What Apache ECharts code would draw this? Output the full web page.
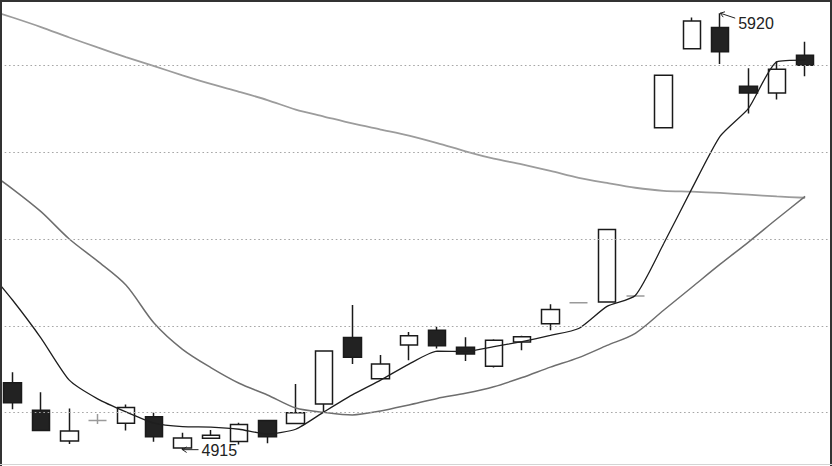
<!DOCTYPE html>
<html><head><meta charset="utf-8">
<script src="https://cdn.jsdelivr.net/npm/echarts@6/dist/echarts.min.js"></script>
<style>html,body{margin:0;padding:0;background:#fff}#c{width:832px;height:466px}</style>
</head><body><div id="c"></div>
<script>
// ---- data ----
const categories = ['', '1','2','3','4','5','6','7','8','9','10','11','12','13','14','15','16','17','18','19','20','21','22','23','24','25','26','27','28','29', ''];
const opens  = [5069,5006,4935,4982,4976,4991,4919,4941,4934,4982,4975,5020,5173,5078,5156,5190,5151,5107,5163,5205,5253,5255,5269,5656,5838,5887,5752,5736,5823];
const closes = [5023,4959,4958,4982,5012,4945,4942,4948,4973,4945,5000,5142,5128,5112,5177,5154,5135,5167,5175,5238,5253,5422,5269,5777,5902,5831,5736,5791,5800];
const lows   = [5008,4959,4928,4974,4959,4933,4915,4941,4927,4930,4975,5000,5112,5078,5121,5148,5119,5104,5144,5190,5253,5255,5269,5656,5838,5803,5689,5721,5775];
const highs  = [5093,5047,5010,4997,5019,5000,4954,4960,4977,4982,5066,5144,5248,5133,5186,5198,5174,5169,5177,5250,5253,5422,5269,5777,5910,5920,5793,5809,5854];
// moving averages: first value is the point just before the first visible candle
const maShort = [5338,5259,5172,5075,5032,5002,4976,4968,4967,4962,4951,4962,5002,5041,5075,5112,5142,5141,5152,5164,5178,5194,5245,5270,5389,5516,5637,5701,5808,5812];
const maMid   = [5562,5515,5463,5400,5349,5294,5206,5146,5104,5068,5041,5011,5001,4995,5004,5018,5033,5045,5060,5081,5105,5127,5155,5183,5236,5289,5342,5393,5446,5498];
const maLong  = [5931,5910,5888,5864,5841,5819,5798,5777,5757,5739,5720,5698,5682,5666,5652,5638,5621,5602,5585,5572,5557,5541,5529,5518,5511,5509,5506,5502,5498,5495];
const gridValues = [5000, 5200, 5400, 5600, 5800];

// ---- build ----
const empty = {value: ['-','-','-','-']};
const dojiStyle = {color:'#9a9a9a', color0:'#9a9a9a', borderColor:'#9a9a9a', borderColor0:'#9a9a9a', borderColorDoji:'#9a9a9a'};
const candleData = [empty].concat(opens.map((o, i) => {
  const item = {value: [o, closes[i], lows[i], highs[i]]};
  if (o === closes[i]) item.itemStyle = dojiStyle;
  return item;
})).concat([empty]);
const withTail = arr => arr.concat(['-']);

const hiIdx = highs.indexOf(Math.max.apply(null, highs));
const loIdx = lows.indexOf(Math.min.apply(null, lows));
const notes = [[hiIdx + 1, highs[hiIdx], 0], [loIdx + 1, lows[loIdx], 1]];

const chart = echarts.init(document.getElementById('c'), null, {renderer: 'svg'});
chart.setOption({
  animation: false,
  backgroundColor: '#fff',
  grid: {left: -29.75, right: -15.55, top: 1, height: 463, outerBoundsMode: 'none', containLabel: false},
  xAxis: {type: 'category', data: categories, boundaryGap: true,
    axisLine: {show: false}, axisTick: {show: false}, axisLabel: {show: false}, splitLine: {show: false}},
  yAxis: {type: 'value', min: 4882, max: 5948, scale: true,
    axisLine: {show: false}, axisTick: {show: false}, axisLabel: {show: false}, splitLine: {show: false}},
  graphic: [
    {type: 'line', z: 100, shape: {x1: 0, y1: 1, x2: 832, y2: 1}, style: {stroke: '#333', lineWidth: 2}},
    {type: 'line', z: 100, shape: {x1: 1, y1: 0, x2: 1, y2: 466}, style: {stroke: '#333', lineWidth: 2}},
    {type: 'line', z: 100, shape: {x1: 831, y1: 0, x2: 831, y2: 466}, style: {stroke: '#333', lineWidth: 2}},
    {type: 'line', z: 100, shape: {x1: 0, y1: 464.5, x2: 832, y2: 464.5}, style: {stroke: '#d4d4d4', lineWidth: 1}}
  ],
  series: [
    {type: 'line', z: 1, data: categories.map(() => '-'), symbol: 'none', silent: true,
      markLine: {silent: true, symbol: ['none', 'none'], label: {show: false},
        lineStyle: {type: [1.6, 2.7], color: '#a6a6a6', width: 1.2},
        data: gridValues.map(v => ({yAxis: v}))}},
    {type: 'candlestick', z: 2, data: candleData, barWidth: 18,
      itemStyle: {color: '#ffffff', color0: '#222222', borderColor: '#1a1a1a', borderColor0: '#1a1a1a',
        borderColorDoji: '#9a9a9a', borderWidth: 1.5}},
    {type: 'line', z: 3, data: withTail(maLong), symbol: 'none', smooth: 0.3,
      lineStyle: {color: '#9c9c9c', width: 1.8}},
    {type: 'line', z: 3, data: withTail(maMid), symbol: 'none', smooth: 0.3,
      lineStyle: {color: '#6e6e6e', width: 1.5}},
    {type: 'line', z: 4, data: withTail(maShort), symbol: 'none', smooth: 0.2,
      lineStyle: {color: '#1e1e1e', width: 1.3}},
    {type: 'custom', z: 10, data: notes, encode: {x: 0, y: 1}, clip: false,
      renderItem: function (params, api) {
        const p = api.coord([api.value(0), api.value(1)]);
        const kind = api.value(2);
        const tail = kind === 0 ? [p[0] + 15, p[1] + 5] : [p[0] + 16, p[1]];
        const dx = tail[0] - p[0], dy = tail[1] - p[1];
        const len = Math.hypot(dx, dy);
        const ux = dx / len, uy = dy / len;
        const wing = a => [p[0] + 5 * (ux * Math.cos(a) - uy * Math.sin(a)), p[1] + 5 * (ux * Math.sin(a) + uy * Math.cos(a))];
        const w1 = wing(0.6), w2 = wing(-0.6);
        const st = {stroke: '#222', lineWidth: 1, fill: null};
        const txt = String(api.value(1));
        return {type: 'group', children: [
          {type: 'line', shape: {x1: p[0], y1: p[1], x2: tail[0], y2: tail[1]}, style: st},
          {type: 'line', shape: {x1: p[0], y1: p[1], x2: w1[0], y2: w1[1]}, style: st},
          {type: 'line', shape: {x1: p[0], y1: p[1], x2: w2[0], y2: w2[1]}, style: st},
          {type: 'text', style: {text: txt, x: tail[0] + 3, y: kind === 0 ? p[1] + 10 : p[1] + 0.5,
            fill: '#222', font: '16px "Liberation Sans", Arial, sans-serif', align: 'left', verticalAlign: 'middle'}}
        ]};
      }}
  ]
});
</script>
</body></html>
